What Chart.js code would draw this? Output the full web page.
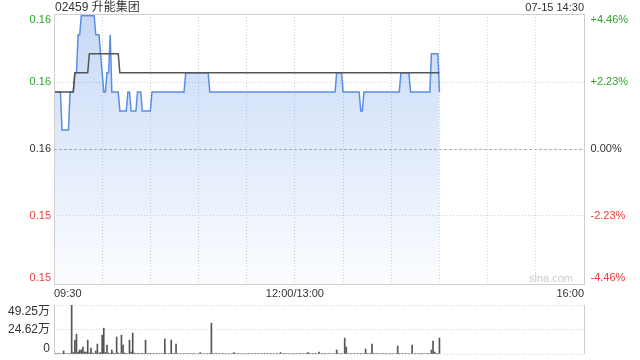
<!DOCTYPE html>
<html>
<head>
<meta charset="utf-8">
<script src="https://cdn.jsdelivr.net/npm/chart.js@4.4.1/dist/chart.umd.min.js"></script>
<style>
  html, body { margin: 0; padding: 0; background: #fff; }
  #wrap { position: relative; width: 640px; height: 360px; overflow: hidden;
    font-family: "Liberation Sans", Arial, "Noto Sans CJK SC", sans-serif; color: #333; }
  #title { position: absolute; left: 55px; top: 0; font-size: 12px; line-height: 14px; }
  #stamp { position: absolute; right: 56px; top: 0; font-size: 11px; line-height: 14px; }
  #main { position: absolute; left: 0; top: 0; }
  #vol { position: absolute; left: 0; top: 300px; }
</style>
</head>
<body>
<div id="wrap">
  <canvas id="main" width="640" height="300"></canvas>
  <canvas id="vol" width="640" height="60"></canvas>
  <div id="title">02459 升能集团</div>
  <div id="stamp">07-15 14:30</div>
</div>
<script>
const prevClose = 0.157;
// axis bounds sit a hair outside the 0.164 / 0.150 extremes, as in the original
const priceAxisMax = 0.16409;
const priceAxisMin = 0.14991;
const priceTicks = [priceAxisMax, 0.1605, 0.157, 0.1535, priceAxisMin];
const priceTickLabels = ["0.16", "0.16", "0.16", "0.15", "0.15"];
const pctTickLabels = ["+4.46%", "+2.23%", "0.00%", "-2.23%", "-4.46%"];
// minute index: 0 = 09:30, 150 = 12:00/13:00, 330 = 16:00
const timeTicks = [0, 30, 60, 90, 120, 150, 180, 210, 240, 270, 300, 330];
const timeTickLabels = ["09:30", "", "", "", "", "12:00/13:00", "", "", "", "", "", "16:00"];
const volumeTicks = [49.25, 24.62, 0];
const volumeTickLabels = ["49.25万", "24.62万", "0"];

const prices = [
  0.160, 0.160, 0.160, 0.160, 0.160, 0.158, 0.158, 0.158, 0.158, 0.158, 0.160, 0.160, 0.160, 0.161, 0.161, 0.163, 0.163, 0.164, 0.164, 0.164,
  0.164, 0.164, 0.164, 0.164, 0.164, 0.164, 0.163, 0.163, 0.163, 0.162, 0.161, 0.160, 0.160, 0.161, 0.161, 0.163, 0.160, 0.160, 0.160, 0.160,
  0.160, 0.159, 0.159, 0.159, 0.159, 0.159, 0.160, 0.160, 0.159, 0.159, 0.159, 0.159, 0.160, 0.160, 0.160, 0.159, 0.159, 0.159, 0.159, 0.159,
  0.159, 0.160, 0.160, 0.160, 0.160, 0.160, 0.160, 0.160, 0.160, 0.160, 0.160, 0.160, 0.160, 0.160, 0.160, 0.160, 0.160, 0.160, 0.160, 0.160,
  0.160, 0.160, 0.161, 0.161, 0.161, 0.161, 0.161, 0.161, 0.161, 0.161, 0.161, 0.161, 0.161, 0.161, 0.161, 0.161, 0.161, 0.160, 0.160, 0.160,
  0.160, 0.160, 0.160, 0.160, 0.160, 0.160, 0.160, 0.160, 0.160, 0.160, 0.160, 0.160, 0.160, 0.160, 0.160, 0.160, 0.160, 0.160, 0.160, 0.160,
  0.160, 0.160, 0.160, 0.160, 0.160, 0.160, 0.160, 0.160, 0.160, 0.160, 0.160, 0.160, 0.160, 0.160, 0.160, 0.160, 0.160, 0.160, 0.160, 0.160,
  0.160, 0.160, 0.160, 0.160, 0.160, 0.160, 0.160, 0.160, 0.160, 0.160, 0.160, 0.160, 0.160, 0.160, 0.160, 0.160, 0.160, 0.160, 0.160, 0.160,
  0.160, 0.160, 0.160, 0.160, 0.160, 0.160, 0.160, 0.160, 0.160, 0.160, 0.160, 0.160, 0.160, 0.160, 0.160, 0.160, 0.161, 0.161, 0.161, 0.161,
  0.160, 0.160, 0.160, 0.160, 0.160, 0.160, 0.160, 0.160, 0.160, 0.160, 0.160, 0.159, 0.159, 0.160, 0.160, 0.160, 0.160, 0.160, 0.160, 0.160,
  0.160, 0.160, 0.160, 0.160, 0.160, 0.160, 0.160, 0.160, 0.160, 0.160, 0.160, 0.160, 0.160, 0.160, 0.160, 0.160, 0.161, 0.161, 0.161, 0.161,
  0.161, 0.161, 0.160, 0.160, 0.160, 0.160, 0.160, 0.160, 0.160, 0.160, 0.160, 0.160, 0.160, 0.160, 0.160, 0.162, 0.162, 0.162, 0.162, 0.162,
  0.160
];

const avgPrices = [
  0.160, 0.160, 0.160, 0.160, 0.160, 0.160, 0.160, 0.160, 0.160, 0.160, 0.160, 0.160, 0.160, 0.161, 0.161, 0.161, 0.161, 0.161, 0.161, 0.161,
  0.161, 0.161, 0.162, 0.162, 0.162, 0.162, 0.162, 0.162, 0.162, 0.162, 0.162, 0.162, 0.162, 0.162, 0.162, 0.162, 0.162, 0.162, 0.162, 0.162,
  0.162, 0.161, 0.161, 0.161, 0.161, 0.161, 0.161, 0.161, 0.161, 0.161, 0.161, 0.161, 0.161, 0.161, 0.161, 0.161, 0.161, 0.161, 0.161, 0.161,
  0.161, 0.161, 0.161, 0.161, 0.161, 0.161, 0.161, 0.161, 0.161, 0.161, 0.161, 0.161, 0.161, 0.161, 0.161, 0.161, 0.161, 0.161, 0.161, 0.161,
  0.161, 0.161, 0.161, 0.161, 0.161, 0.161, 0.161, 0.161, 0.161, 0.161, 0.161, 0.161, 0.161, 0.161, 0.161, 0.161, 0.161, 0.161, 0.161, 0.161,
  0.161, 0.161, 0.161, 0.161, 0.161, 0.161, 0.161, 0.161, 0.161, 0.161, 0.161, 0.161, 0.161, 0.161, 0.161, 0.161, 0.161, 0.161, 0.161, 0.161,
  0.161, 0.161, 0.161, 0.161, 0.161, 0.161, 0.161, 0.161, 0.161, 0.161, 0.161, 0.161, 0.161, 0.161, 0.161, 0.161, 0.161, 0.161, 0.161, 0.161,
  0.161, 0.161, 0.161, 0.161, 0.161, 0.161, 0.161, 0.161, 0.161, 0.161, 0.161, 0.161, 0.161, 0.161, 0.161, 0.161, 0.161, 0.161, 0.161, 0.161,
  0.161, 0.161, 0.161, 0.161, 0.161, 0.161, 0.161, 0.161, 0.161, 0.161, 0.161, 0.161, 0.161, 0.161, 0.161, 0.161, 0.161, 0.161, 0.161, 0.161,
  0.161, 0.161, 0.161, 0.161, 0.161, 0.161, 0.161, 0.161, 0.161, 0.161, 0.161, 0.161, 0.161, 0.161, 0.161, 0.161, 0.161, 0.161, 0.161, 0.161,
  0.161, 0.161, 0.161, 0.161, 0.161, 0.161, 0.161, 0.161, 0.161, 0.161, 0.161, 0.161, 0.161, 0.161, 0.161, 0.161, 0.161, 0.161, 0.161, 0.161,
  0.161, 0.161, 0.161, 0.161, 0.161, 0.161, 0.161, 0.161, 0.161, 0.161, 0.161, 0.161, 0.161, 0.161, 0.161, 0.161, 0.161, 0.161, 0.161, 0.161,
  0.161
];

// volume per minute, in 万 shares
const volumes = [
  0, 0.5, 0, 0.5, 0, 0.5, 3, 0.5, 0, 0.5, 0.5, 49.25, 1.5, 14, 20, 2, 4, 4, 7, 2,
  2, 14, 1, 6, 1, 0.5, 3, 10, 1, 1.5, 19, 26, 1.5, 9, 1, 0.5, 4, 1, 0.5, 17,
  1, 0.5, 19, 9, 1, 0.5, 0.5, 14, 2, 21, 1, 0.5, 0.5, 0.5, 0.5, 0.5, 0.5, 14, 0.5, 0.5,
  0.5, 0, 0.5, 0, 0.5, 0, 0.5, 0, 0.5, 15, 0.5, 0, 0.5, 14, 0.5, 0.5, 10, 0.5, 0, 0.5,
  0, 0.5, 0, 0.5, 0, 0.5, 0, 0.5, 0, 0.5, 0, 1.5, 0, 0.5, 0, 0.5, 0, 0.5, 31, 0.5,
  0, 0.5, 0, 0.5, 0, 0.5, 0, 0.5, 0, 0.5, 0, 0.5, 1.5, 0.5, 0, 0.5, 0, 0.5, 0, 0.5,
  0, 0.5, 0, 0.5, 0, 0.5, 0, 0.5, 0, 0.5, 0, 0.5, 0, 0.5, 0, 0.5, 0, 0.5, 0, 0.5,
  0, 1.5, 0, 0.5, 0, 0.5, 0, 0.5, 0, 0.5, 0, 0.5, 0, 0.5, 0, 0.5, 0, 0.5, 1.5, 0.5,
  0, 0.5, 0, 0.5, 0, 2, 0, 0.5, 0, 0.5, 0, 0.5, 0, 0.5, 0, 0.5, 4, 0.5, 0, 0.5,
  0, 16, 7, 0.5, 0, 0.5, 0, 0.5, 0, 0.5, 0, 0.5, 0, 0.5, 5, 0.5, 0, 0.5, 10, 0.5,
  0, 0.5, 0, 0.5, 0, 0.5, 0, 0.5, 0, 0.5, 0, 0.5, 0, 0.5, 8, 0.5, 0, 0.5, 0, 0.5,
  0, 0.5, 0, 9, 0, 0.5, 0, 0.5, 0, 0.5, 0, 0.5, 0, 0.5, 0, 4, 13, 2, 0.5, 0.5,
  16
];

const FONT = '"Liberation Sans", Arial, "Noto Sans CJK SC", sans-serif';
const GREEN = "#2aa52a";
const RED = "#f23a3a";
const tickColors = [GREEN, GREEN, "#333333", RED, RED];
const GRID = "#d2d2d2";
const FRAME = "#cfcfcf";

const mainPlugin = {
  id: "mainDecor",
  afterDraw(chart) {
    const { ctx, chartArea } = chart;
    const y = chart.scales.y;
    ctx.save();
    ctx.strokeStyle = FRAME;
    ctx.lineWidth = 1;
    ctx.strokeRect(chartArea.left + 0.5, chartArea.top + 0.5, chartArea.width, chartArea.height);

    ctx.font = "11px " + FONT;
    ctx.fillStyle = "#cccccc";
    ctx.textAlign = "right";
    ctx.textBaseline = "middle";
    ctx.fillText("sina.com", chartArea.right - 11, chartArea.bottom - 5);

    const last = priceTicks.length - 1;
    priceTicks.forEach((v, k) => {
      let py = y.getPixelForValue(v);
      if (k === 0) py += 6;
      if (k === last) py -= 6;
      ctx.fillStyle = tickColors[k];
      ctx.textAlign = "right";
      ctx.fillText(priceTickLabels[k], chartArea.left - 3, py);
      ctx.textAlign = "left";
      ctx.fillText(pctTickLabels[k], chartArea.right + 6.5, py);
    });
    ctx.restore();
  },
};

const volPlugin = {
  id: "volDecor",
  afterDraw(chart) {
    const { ctx, chartArea } = chart;
    const y = chart.scales.y;
    ctx.save();
    ctx.strokeStyle = FRAME;
    ctx.lineWidth = 1;
    ctx.beginPath();
    ctx.moveTo(chartArea.left + 0.5, chartArea.top);
    ctx.lineTo(chartArea.left + 0.5, chartArea.bottom);
    ctx.moveTo(chartArea.right + 0.5, chartArea.top);
    ctx.lineTo(chartArea.right + 0.5, chartArea.bottom);
    ctx.stroke();

    ctx.font = "12px " + FONT;
    ctx.fillStyle = "#333333";
    ctx.textAlign = "right";
    ctx.textBaseline = "middle";
    const last = volumeTicks.length - 1;
    volumeTicks.forEach((v, k) => {
      let py = y.getPixelForValue(v);
      if (k === 0) py += 7;
      if (k === last) py -= 5;
      ctx.fillText(volumeTickLabels[k], chartArea.left - 4, py);
    });
    ctx.restore();
  },
};

const mainChart = new Chart(document.getElementById("main"), {
  type: "line",
  data: {
    datasets: [
      {
        label: "均价",
        data: avgPrices.map((v, i) => ({ x: i, y: v })),
        borderColor: "#555555",
        borderWidth: 1.5,
        pointRadius: 0,
        tension: 0,
        fill: false,
      },
      {
        label: "价格",
        data: prices.map((v, i) => ({ x: i, y: v })),
        borderColor: "#5a8de6",
        borderWidth: 1.5,
        pointRadius: 0,
        tension: 0,
        fill: "start",
        backgroundColor: (context) => {
          const area = context.chart.chartArea;
          if (!area) return "rgba(70,130,230,0.2)";
          const g = context.chart.ctx.createLinearGradient(0, area.top, 0, area.bottom);
          g.addColorStop(0, "rgba(70,130,230,0.30)");
          g.addColorStop(1, "rgba(70,130,230,0.02)");
          return g;
        },
      },
    ],
  },
  options: {
    responsive: false,
    animation: false,
    layout: { padding: { top: 14, right: 56, left: 0, bottom: 0 } },
    plugins: {
      legend: { display: false },
      tooltip: { enabled: false },
    },
    scales: {
      x: {
        type: "linear",
        min: 0,
        max: 330,
        offset: false,
        afterBuildTicks: (scale) => {
          scale.ticks = timeTicks.map((v) => ({ value: v }));
        },
        afterFit: (scale) => {
          scale.height = 16;
        },
        grid: { color: GRID, drawTicks: false },
        border: { display: false, dash: [1, 2] },
        ticks: {
          autoSkip: false,
          maxRotation: 0,
          align: "inner",
          padding: 3,
          color: "#333333",
          font: { family: FONT, size: 11 },
          callback: (value) => timeTickLabels[timeTicks.indexOf(value)] || "",
        },
      },
      y: {
        min: priceAxisMin,
        max: priceAxisMax,
        afterBuildTicks: (scale) => {
          scale.ticks = priceTicks.map((v) => ({ value: v }));
        },
        afterFit: (scale) => {
          scale.width = 54;
        },
        grid: {
          drawTicks: false,
          color: (c) => (c.tick && c.tick.value === prevClose ? "#b0b0b0" : GRID),
        },
        border: {
          display: false,
          dash: (c) => (c.tick && c.tick.value === prevClose ? [3, 2] : [1, 2]),
        },
        ticks: { display: false },
      },
    },
  },
  plugins: [mainPlugin],
});

const volChart = new Chart(document.getElementById("vol"), {
  type: "bar",
  data: {
    datasets: [
      {
        label: "成交量",
        data: volumes.map((v, i) => ({ x: i, y: v })),
        backgroundColor: "#555555",
        barThickness: 1,
      },
    ],
  },
  options: {
    responsive: false,
    animation: false,
    layout: { padding: { top: 5, right: 56, left: 0, bottom: 6 } },
    plugins: {
      legend: { display: false },
      tooltip: { enabled: false },
    },
    scales: {
      x: { type: "linear", min: 0, max: 330, offset: false, display: false },
      y: {
        min: 0,
        max: 49.25,
        afterBuildTicks: (scale) => {
          scale.ticks = volumeTicks.map((v) => ({ value: v }));
        },
        afterFit: (scale) => {
          scale.width = 54;
        },
        grid: { color: GRID, drawTicks: false },
        border: { display: false, dash: [1, 2] },
        ticks: { display: false },
      },
    },
  },
  plugins: [volPlugin],
});
</script>
</body>
</html>
